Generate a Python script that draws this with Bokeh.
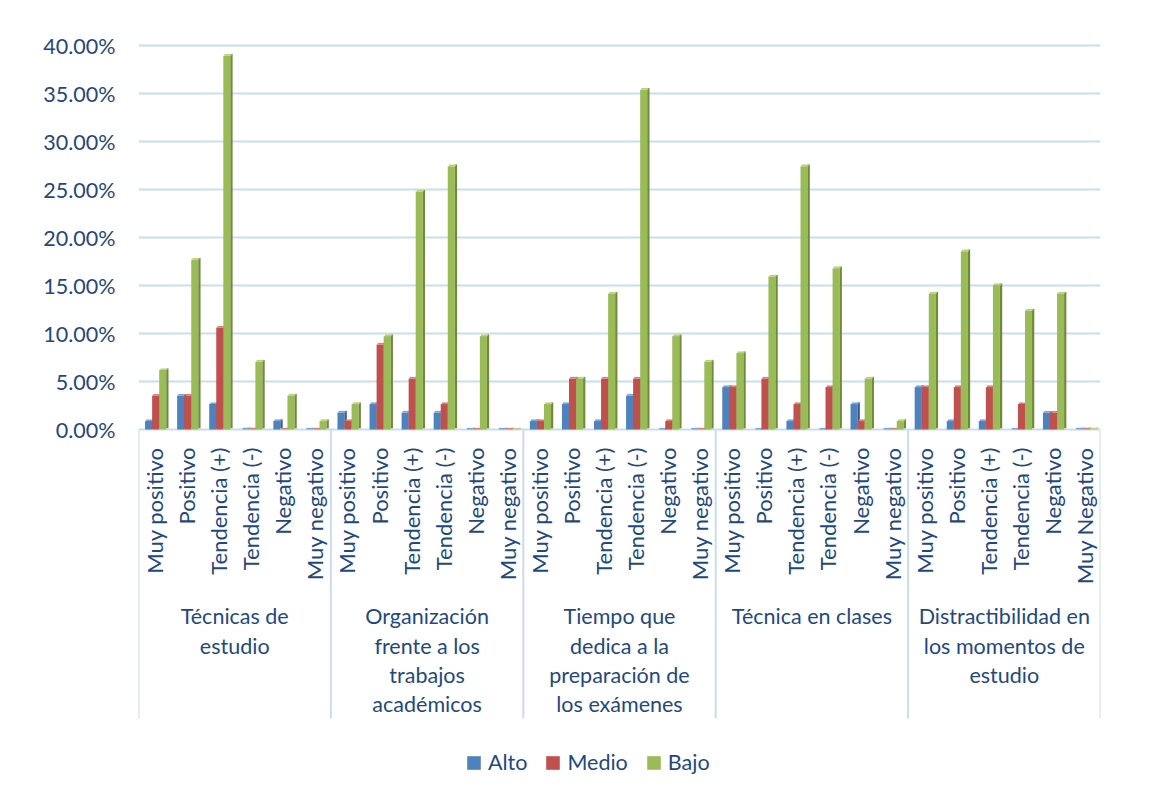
from bokeh.plotting import figure
from bokeh.models import (ColumnDataSource, FactorRange, Range1d, FixedTicker,
                          PrintfTickFormatter, Legend, LegendItem)
from bokeh.transform import dodge
from bokeh.core.properties import value
from bokeh.embed import file_html
from bokeh.resources import INLINE
import math

# ---------------- data ----------------
grupos = ["Técnicas de estudio",
          "Organización frente a los trabajos académicos",
          "Tiempo que dedica a la preparación de los exámenes",
          "Técnica en clases",
          "Distractibilidad en los momentos de estudio"]
grupos_etiqueta = ["Técnicas de\nestudio",
                   "Organización\nfrente a los\ntrabajos\nacadémicos",
                   "Tiempo que\ndedica a la\npreparación de\nlos exámenes",
                   "Técnica en clases",
                   "Distractibilidad en\nlos momentos de\nestudio"]
categorias = [
    ["Muy positivo", "Positivo", "Tendencia (+)", "Tendencia (-)", "Negativo", "Muy negativo"],
    ["Muy positivo", "Positivo", "Tendencia (+)", "Tendencia (-)", "Negativo", "Muy negativo"],
    ["Muy positivo", "Positivo", "Tendencia (+)", "Tendencia (-)", "Negativo", "Muy negativo"],
    ["Muy positivo", "Positivo", "Tendencia (+)", "Tendencia (-)", "Negativo", "Muy negativo"],
    ["Muy positivo", "Positivo", "Tendencia (+)", "Tendencia (-)", "Negativo", "Muy Negativo"],
]
alto = [0.88, 3.54, 2.65, 0.00, 0.88, 0.00,
        1.77, 2.65, 1.77, 1.77, 0.00, 0.00,
        0.88, 2.65, 0.88, 3.54, 0.00, 0.00,
        4.42, 0.00, 0.88, 0.00, 2.65, 0.00,
        4.42, 0.88, 0.88, 0.00, 1.77, 0.00]
medio = [3.54, 3.54, 10.62, 0.00, 0.00, 0.00,
         0.88, 8.85, 5.31, 2.65, 0.00, 0.00,
         0.88, 5.31, 5.31, 5.31, 0.88, 0.00,
         4.42, 5.31, 2.65, 4.42, 0.88, 0.00,
         4.42, 4.42, 4.42, 2.65, 1.77, 0.00]
bajo = [6.19, 17.70, 38.94, 7.08, 3.54, 0.88,
        2.65, 9.73, 24.78, 27.43, 9.73, 0.00,
        2.65, 5.31, 14.16, 35.40, 9.73, 7.08,
        7.96, 15.93, 27.43, 16.81, 5.31, 0.88,
        14.16, 18.58, 15.04, 12.39, 14.16, 0.00]
series = ["Alto", "Medio", "Bajo"]
y_ticks = [0, 5, 10, 15, 20, 25, 30, 35, 40]

# ---------------- styling ----------------
FONT = "Lato"
TXT = "#1F497D"
GRID = "#CCDBEF"
front = ["#4F81BD", "#C0504D", "#9BBB59"]
side = ["#35598A", "#8C3431", "#6E8B36"]
cap = ["#7FA3D3", "#D77F7D", "#B9D27F"]
offsets = [-0.185, 0.035, 0.255]
BW = 0.22

factors = [(g, c) for g, cs in zip(grupos, categorias) for c in cs]

p = figure(x_range=FactorRange(*factors, group_padding=0, factor_padding=0,
                               subgroup_padding=0, range_padding=0),
           y_range=Range1d(-36.354, 41.771),
           width=1142, height=784, output_backend="svg", toolbar_location=None,
           min_border_left=138, min_border_right=42, min_border_top=28,
           min_border_bottom=6)
p.outline_line_color = None
p.background_fill_color = "white"
p.border_fill_color = "white"

p.xaxis.visible = False
p.xgrid.grid_line_color = None
p.ygrid.ticker = FixedTicker(ticks=y_ticks)
p.ygrid.grid_line_color = GRID
p.ygrid.grid_line_width = 2

ax = p.yaxis[0]
ax.ticker = FixedTicker(ticks=y_ticks)
ax.bounds = (0, 40)
ax.formatter = PrintfTickFormatter(format="%.2f%%")
ax.axis_line_color = None
ax.major_tick_line_color = None
ax.minor_tick_line_color = None
ax.major_label_standoff = 17
ax.major_label_text_font = FONT
ax.major_label_text_font_size = "21.5px"
ax.major_label_text_color = TXT

src = ColumnDataSource(dict(x=factors, Alto=alto, Medio=medio, Bajo=bajo,
                            Alto_c=[v + 0.17 for v in alto],
                            Medio_c=[v + 0.17 for v in medio],
                            Bajo_c=[v + 0.17 for v in bajo]))

# group separators
sep_x = [(g, cs[0]) for g, cs in zip(grupos, categorias)]
sep_src = ColumnDataSource(dict(x=sep_x))
p.segment(x0=dodge("x", -0.5, range=p.x_range), y0=0,
          x1=dodge("x", -0.5, range=p.x_range), y1=-30.1,
          source=sep_src, line_color=GRID, line_width=2)
last_src = ColumnDataSource(dict(x=[(grupos[-1], categorias[-1][-1])]))
p.segment(x0=dodge("x", 0.5, range=p.x_range), y0=0,
          x1=dodge("x", 0.5, range=p.x_range), y1=-30.1,
          source=last_src, line_color=GRID, line_width=2)

legend_items = []
for i, s in enumerate(series):
    r = p.vbar(x=dodge("x", offsets[i], range=p.x_range), top=s, bottom=0,
               width=BW, source=src, fill_color=front[i], line_color=None)
    p.vbar(x=dodge("x", offsets[i] + BW / 2 + 0.035, range=p.x_range),
           top=s + "_c", bottom=0.12, width=0.07, source=src,
           fill_color=side[i], line_color=None)
    p.vbar(x=dodge("x", offsets[i] + 0.035, range=p.x_range),
           top=s + "_c", bottom=s, width=BW, source=src,
           fill_color=cap[i], line_color=None)
    legend_items.append(LegendItem(label=s, renderers=[r]))

# category labels (vertical)
lab_src = ColumnDataSource(dict(x=factors, t=[f[1] for f in factors]))
p.text(x="x", y=-1.875, text="t", source=lab_src,
       angle=math.pi / 2, text_align="right", text_baseline="middle",
       text_font=value(FONT), text_font_size="22px", text_color=TXT)

# group labels
mid_src = ColumnDataSource(dict(x=[(g, cs[3]) for g, cs in zip(grupos, categorias)],
                                t=grupos_etiqueta))
p.text(x=dodge("x", -0.5, range=p.x_range), y=-18.1, text="t", source=mid_src,
       text_align="center", text_baseline="top", text_line_height=1.13,
       text_font=value(FONT), text_font_size="21.5px", text_color=TXT)

legend = Legend(items=legend_items, orientation="horizontal", location=(327, 3),
                glyph_width=17, glyph_height=17, label_standoff=6, spacing=17,
                padding=0, margin=0, border_line_color=None,
                background_fill_alpha=0,
                label_text_font=FONT, label_text_font_size="21.5px",
                label_text_color=TXT)
p.add_layout(legend, "center")

open("out.html", "w").write(file_html(p, INLINE))
